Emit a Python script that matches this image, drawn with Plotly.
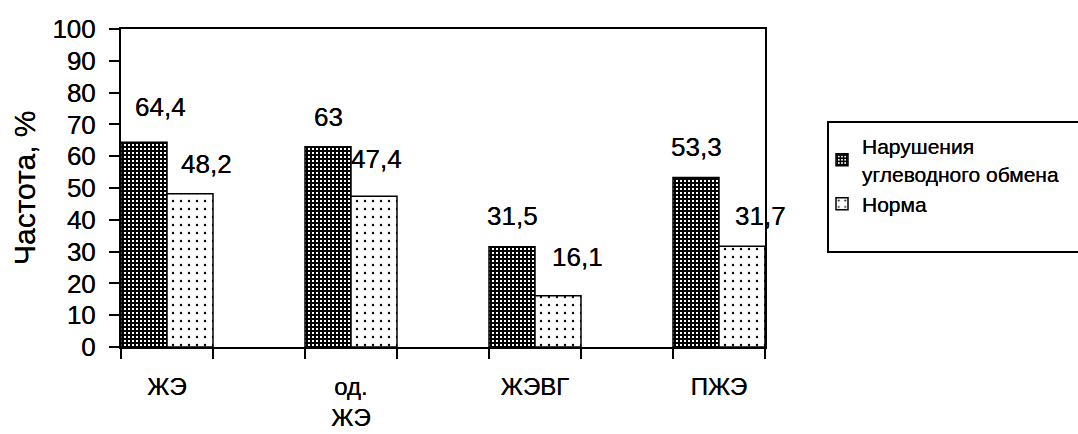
import plotly.graph_objects as go

# Data
categories = ["ЖЭ", "од.<br>ЖЭ", "ЖЭВГ", "ПЖЭ"]
disorders = [64.4, 63, 31.5, 53.3]   # Нарушения углеводного обмена
norm = [48.2, 47.4, 16.1, 31.7]      # Норма
series_names = ["Нарушения<br>углеводного обмена", "Норма"]

# Each category sits on every second slot, with an empty slot between groups
pos = [2 * i for i in range(len(categories))]

# Label placement tweaks (pixels): (xshift, yshift of label centre above bar top)
dark_label_shift = [(16, 35), (0, 30), (0, 31), (0, 31)]
light_label_shift = [(16, 30), (2, 37), (19, 39), (18, 30)]

W, H = 1078, 434
L, R, T, B = 121, 313, 29, 87
PW, PH = W - L - R, H - T - B

FONT = "Liberation Sans, Arial, sans-serif"
INK = "0 0 0.6px black"   # slightly heavier strokes for all text


def fmt(v):
    return ("%g" % v).replace(".", ",")


def font(size):
    return dict(size=size, color="black", family=FONT, shadow=INK)


fig = go.Figure()

fig.add_trace(go.Bar(
    x=pos, y=disorders, width=0.5, offset=-0.5,
    name=series_names[0],
    marker=dict(
        color="black",
        line=dict(color="black", width=1.5),
        pattern=dict(shape="+", size=4, solidity=0.75,
                     fgcolor="black", bgcolor="white", fillmode="replace"),
    ),
))
fig.add_trace(go.Bar(
    x=pos, y=norm, width=0.5, offset=0,
    name=series_names[1],
    marker=dict(
        color="white",
        line=dict(color="black", width=1.5),
        pattern=dict(shape=".", size=8, solidity=0.07,
                     fgcolor="black", bgcolor="white", fillmode="replace"),
    ),
))

annotations = []
for p, v, (dx, dy) in zip(pos, disorders, dark_label_shift):
    annotations.append(dict(x=p - 0.25, y=v, text=fmt(v), showarrow=False,
                            xanchor="center", yanchor="middle",
                            xshift=dx, yshift=dy, font=font(26)))
for p, v, (dx, dy) in zip(pos, norm, light_label_shift):
    annotations.append(dict(x=p + 0.25, y=v, text=fmt(v), showarrow=False,
                            xanchor="center", yanchor="middle",
                            xshift=dx, yshift=dy, font=font(26)))

# Y axis title
annotations.append(dict(x=(24 - L) / PW, y=0.5, xref="paper", yref="paper",
                        text="Частота, %", textangle=-90, showarrow=False,
                        xanchor="center", yanchor="middle", font=font(30)))

fig.update_layout(
    width=W, height=H,
    margin=dict(l=L, r=R, t=T, b=B, pad=0, autoexpand=False),
    paper_bgcolor="white", plot_bgcolor="white",
    font=dict(family=FONT, color="black"),
    barmode="overlay",
    showlegend=True,
    legend=dict(
        xref="container", yref="container",
        x=822 / W, y=1 - 126 / H,
        xanchor="left", yanchor="top",
        font=font(21),
        bgcolor="rgba(0,0,0,0)", borderwidth=0,
        tracegroupgap=12,
    ),
    annotations=annotations,
    shapes=[dict(
        type="rect", xref="paper", yref="paper",
        x0=(828 - L) / PW, x1=(1090 - L) / PW,
        y0=(H - B - 252) / PH, y1=(H - B - 122) / PH,
        line=dict(color="black", width=2), fillcolor="rgba(0,0,0,0)",
    )],
)

fig.update_xaxes(
    range=[-0.5, 2 * len(categories) - 1.5],
    tickmode="array", tickvals=pos, ticktext=categories,
    ticks="", showgrid=False, zeroline=False, automargin=False,
    showline=True, mirror=True, linecolor="black", linewidth=2,
    tickfont=font(24),
    ticklabelstandoff=17,
    minor=dict(tick0=-0.5, dtick=1, ticks="outside", ticklen=10,
               tickwidth=2, tickcolor="black", showgrid=False),
)
fig.update_yaxes(
    range=[0, 100], tickmode="linear", tick0=0, dtick=10,
    ticks="outside", ticklen=10, tickwidth=2, tickcolor="black",
    showgrid=False, zeroline=False, automargin=False,
    showline=True, mirror=True, linecolor="black", linewidth=2,
    tickfont=font(26),
    ticklabelstandoff=8,
)

fig.write_html("out.html")
